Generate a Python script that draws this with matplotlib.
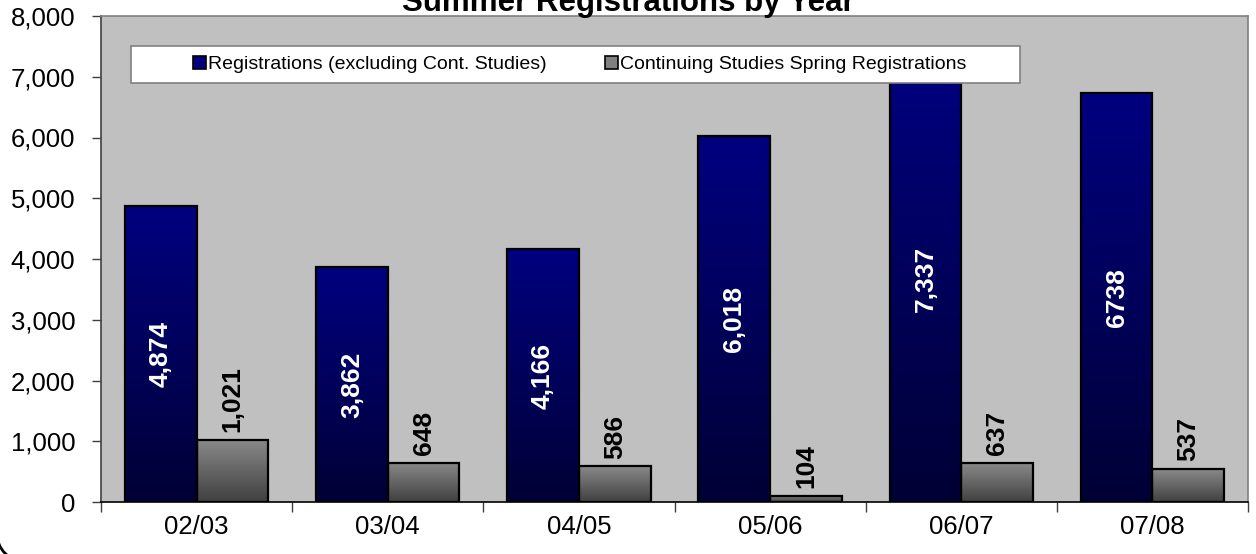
import numpy as np
import matplotlib
matplotlib.use("Agg")
import matplotlib.pyplot as plt
from matplotlib.patches import Rectangle, Patch, Arc
from matplotlib.colors import LinearSegmentedColormap
from matplotlib.ticker import FuncFormatter, FixedLocator

# ---- data ----
years = ["02/03", "03/04", "04/05", "05/06", "06/07", "07/08"]
registrations = [4874, 3862, 4166, 6018, 7337, 6738]
registration_labels = ["4,874", "3,862", "4,166", "6,018", "7,337", "6738"]
cont_studies = [1021, 648, 586, 104, 637, 537]
cont_labels = ["1,021", "648", "586", "104", "637", "537"]
series_names = ["Registrations (excluding Cont. Studies)",
                "Continuing Studies Spring Registrations"]
title = "Summer Registrations by Year"
y_ticks = [0, 1000, 2000, 3000, 4000, 5000, 6000, 7000, 8000]

W, H = 1256, 554
plt.rcParams["font.family"] = ["Liberation Sans", "DejaVu Sans"]
fig = plt.figure(figsize=(W / 100, H / 100), dpi=100)
ax = fig.add_axes([101 / W, (H - 502) / H, (1248 - 101) / W, (502 - 16) / H])
ax.set_facecolor("#C0C0C0")

x = np.arange(len(years))
w = 0.375

blue_cmap = LinearSegmentedColormap.from_list("b", ["#000035", "#000080"])
gray_cmap = LinearSegmentedColormap.from_list("g", ["#404040", "#8A8A8A"])
grad = np.linspace(0, 1, 256).reshape(-1, 1)

bars1 = ax.bar(x - w / 2, registrations, width=w, facecolor="none",
               edgecolor="black", linewidth=1.6, zorder=3)
bars2 = ax.bar(x + w / 2, cont_studies, width=w, facecolor="none",
               edgecolor="black", linewidth=1.6, zorder=3)

for bars, cmap in ((bars1, blue_cmap), (bars2, gray_cmap)):
    for b in bars:
        x0, wd, h = b.get_x(), b.get_width(), b.get_height()
        ax.imshow(grad, cmap=cmap, origin="lower", aspect="auto",
                  extent=[x0, x0 + wd, 0, h], zorder=2, interpolation="bilinear")

for b, lab in zip(bars1, registration_labels):
    ax.text(b.get_x() + b.get_width() / 2, b.get_height() / 2, lab,
            rotation=90, ha="center", va="center", color="white",
            fontsize=19, fontweight="bold", zorder=4)
for b, lab in zip(bars2, cont_labels):
    ax.text(b.get_x() + b.get_width() / 2, b.get_height() + 130, lab,
            rotation=90, ha="center", va="bottom", color="black",
            fontsize=19, fontweight="bold", zorder=4)

ax.set_xlim(-0.5, len(years) - 0.5)
ax.set_ylim(0, 8000)
ax.set_yticks(y_ticks)
ax.yaxis.set_major_formatter(FuncFormatter(lambda v, p: f"{int(v):,}"))
ax.set_xticks(x)
ax.set_xticklabels(years)
ax.xaxis.set_minor_locator(FixedLocator(np.arange(-0.5, len(years), 1.0)))
ax.tick_params(axis="x", which="major", length=0, pad=9, labelsize=18.5)
ax.tick_params(axis="x", which="minor", length=7, width=1, direction="out", color="#404040")
ax.tick_params(axis="y", length=6.5, width=1, direction="out", labelsize=18.5, pad=12,
               color="#404040")

ax.spines["left"].set_color("#404040")
ax.spines["bottom"].set_color("black")
ax.spines["top"].set_color("#808080")
ax.spines["right"].set_color("#808080")
for s in ax.spines.values():
    s.set_linewidth(1.2)

# legend box
lx0 = (131 - 101) / (1248 - 101)
lx1 = (1020 - 101) / (1248 - 101)
ly0 = (502 - 83) / (502 - 16)
ly1 = (502 - 46) / (502 - 16)
ax.add_patch(Rectangle((lx0, ly0), lx1 - lx0, ly1 - ly0, transform=ax.transAxes,
                       facecolor="white", edgecolor="#808080", linewidth=1.2, zorder=5))
handles = [Patch(facecolor="#000080", edgecolor="black", linewidth=1.2),
           Patch(facecolor="#808080", edgecolor="black", linewidth=1.2)]
leg = ax.legend(handles, series_names, loc="center", ncol=2, frameon=False,
                bbox_to_anchor=((lx0 + lx1) / 2 + 0.004, (ly0 + ly1) / 2),
                bbox_transform=ax.transAxes,
                prop={"size": 14},
                handlelength=0.65, handleheight=0.65, handletextpad=0.12,
                columnspacing=3.0, borderpad=0)
leg.set_zorder(6)

fig.text(0.5, 1 - 10.5 / H, title, ha="center", va="baseline", fontsize=22.5,
         fontweight="bold")

# rounded chart border corner (bottom-left)
fig.add_artist(Arc((24 / W, 20 / H), 54 / W, 54 / H, theta1=180, theta2=270,
                   transform=fig.transFigure, color="black", linewidth=2))

fig.savefig("out.png", dpi=100)
